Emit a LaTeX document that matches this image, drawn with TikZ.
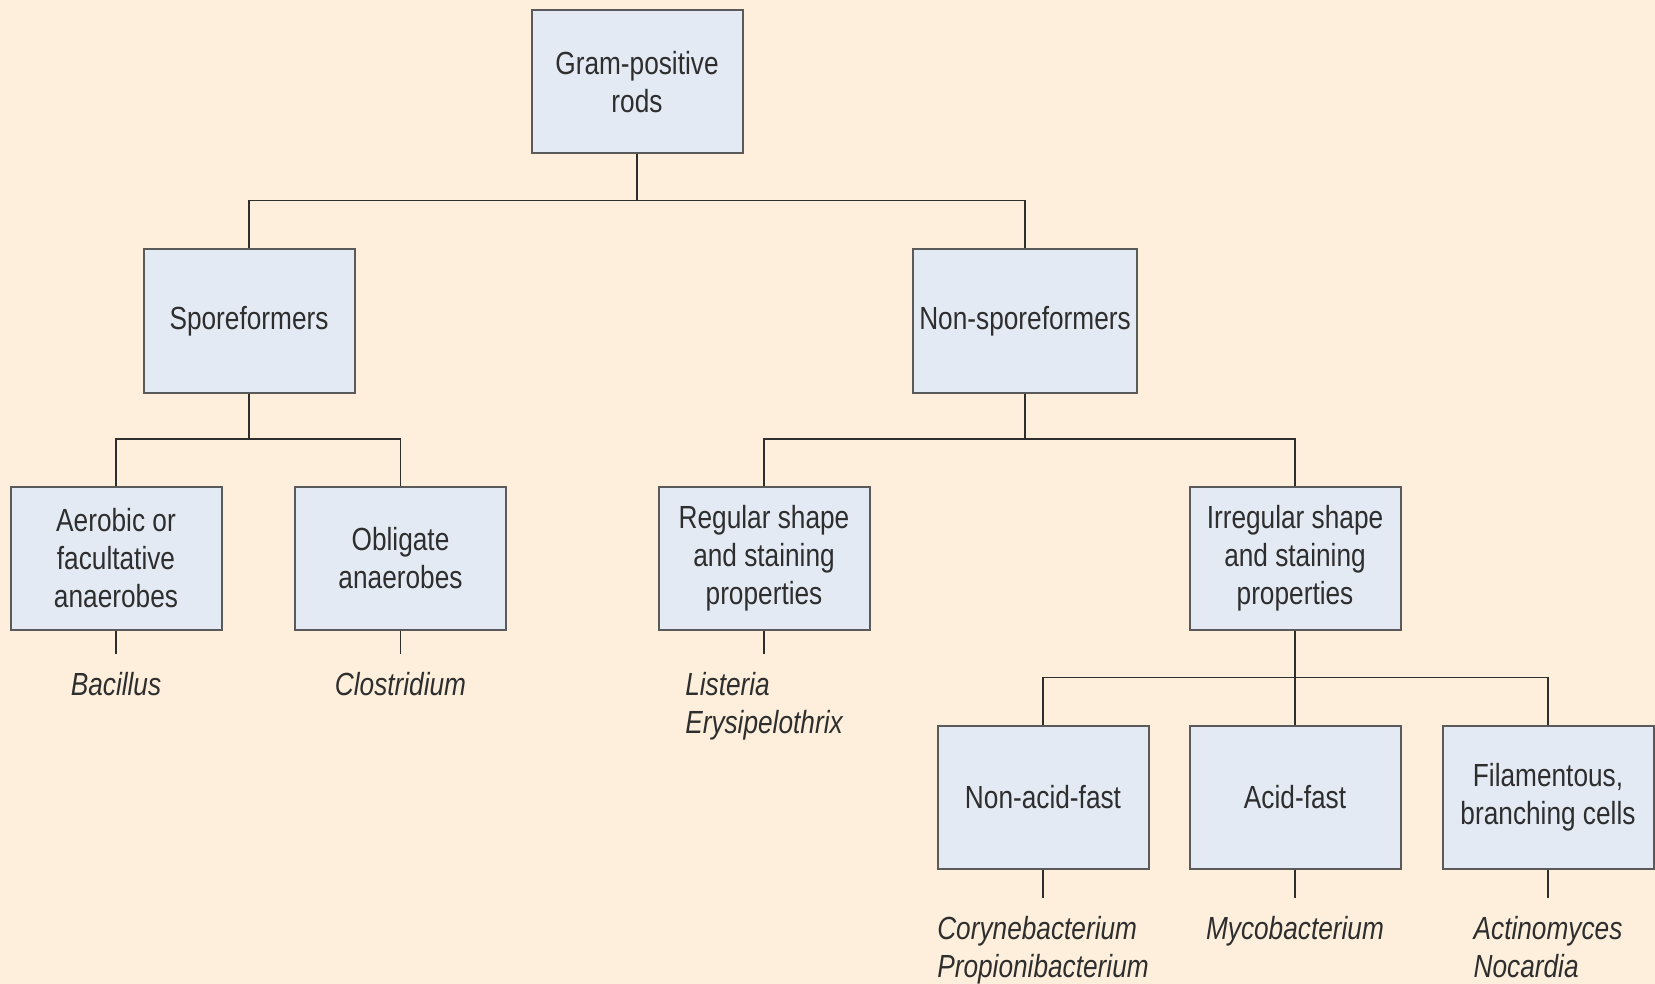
\documentclass[tikz,border=0pt]{standalone}
\usepackage{fontspec}
\setmainfont{Liberation Sans}[FakeStretch=0.82]
\usepackage{xcolor}
\usepackage{tikz}
\usetikzlibrary{positioning}
\definecolor{bgcream}{HTML}{FDEFDB}
\definecolor{boxfill}{HTML}{E4EAF4}
\definecolor{boxline}{HTML}{5A5A5A}
\definecolor{txtgray}{HTML}{2E2E2E}
\tikzset{
  line/.style={line width=0.85pt, draw=txtgray},
  box/.style={draw=boxline, fill=boxfill, line width=1pt, align=center, inner sep=2pt,
    minimum width=105.5pt, minimum height=71.5pt, text=txtgray, font=\fontsize{16}{19}\selectfont},
  genus/.style={align=left, inner sep=0pt, text=txtgray, font=\fontsize{16}{19}\selectfont\itshape}
}

\begin{document}
\begin{tikzpicture}[x=0.5pt, y=-0.5pt]
  \fill[bgcream] (0,0) rectangle (1655,984);
  \useasboundingbox (0,0) rectangle (1655,984);

  \node[box] (root) at (637,82) {Gram-positive\\rods};
  \node[box] (spore) at (249,321) {Sporeformers};
  \node[box, minimum width=112pt] (nonspore) at (1025,321) {Non-sporeformers};

  \node[box] (aerob) at (116,558) {Aerobic or\\facultative\\anaerobes};
  \node[box] (oblig) at (400.5,558) {Obligate\\anaerobes};
  \node[box] (regular) at (764,558) {Regular shape\\and staining\\properties};
  \node[box] (irreg) at (1295,558) {Irregular shape\\and staining\\properties};

  \node[box] (nonacid) at (1043,797) {Non-acid-fast};
  \node[box] (acid) at (1295,797) {Acid-fast};
  \node[box] (filam) at (1548,797) {Filamentous,\\branching cells};

  % tree connectors
  \coordinate (rootbar) at (637,200.5);
  \draw[line] (root.south) -- (rootbar);
  \draw[line] (spore.north) |- (rootbar) -| (nonspore.north);

  \coordinate (sporebar) at (249,439);
  \draw[line] (spore.south) -- (sporebar);
  \draw[line] (aerob.north) |- (sporebar) -| (oblig.north);

  \coordinate (nonsporebar) at (1025,439);
  \draw[line] (nonspore.south) -- (nonsporebar);
  \draw[line] (regular.north) |- (nonsporebar) -| (irreg.north);

  \coordinate (irregbar) at (1295,677.6);
  \draw[line] (irreg.south) -- (acid.north);
  \draw[line] (nonacid.north) |- (irregbar) -| (filam.north);

  % genera
  \coordinate[below=11.5pt of aerob.south] (aerobend);
  \coordinate[below=11.5pt of oblig.south] (obligend);
  \coordinate[below=11.5pt of regular.south] (regularend);
  \coordinate[below=14pt of nonacid.south] (nonacidend);
  \coordinate[below=14pt of acid.south] (acidend);
  \coordinate[below=14pt of filam.south] (filamend);

  \draw[line] (aerob.south) -- (aerobend);
  \draw[line] (oblig.south) -- (obligend);
  \draw[line] (regular.south) -- (regularend);
  \draw[line] (nonacid.south) -- (nonacidend);
  \draw[line] (acid.south) -- (acidend);
  \draw[line] (filam.south) -- (filamend);

  \node[genus, below=9pt of aerobend] (bacillus) {Bacillus};
  \node[genus, below=9pt of obligend] (clostr) {Clostridium};
  \node[genus, below=9pt of regularend] (listeria) {Listeria\\Erysipelothrix};
  \node[genus, below=9pt of nonacidend] (coryne) {Corynebacterium\\Propionibacterium};
  \node[genus, below=9pt of acidend] (myco) {Mycobacterium};
  \node[genus, below=9pt of filamend] (actino) {Actinomyces\\Nocardia};
\end{tikzpicture}
\end{document}
